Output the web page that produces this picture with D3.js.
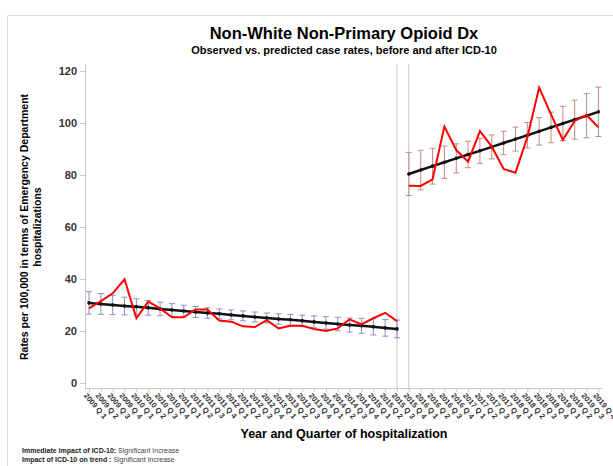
<!DOCTYPE html>
<html>
<head>
<meta charset="utf-8">
<script src="https://cdn.jsdelivr.net/npm/d3@7/dist/d3.min.js"></script>
<style>
  body { margin: 0; background: #fff; }
  svg { display: block; font-family: "Liberation Sans", Arial, sans-serif; }
</style>
</head>
<body>
<svg id="chart" width="613" height="466"></svg>
<script>
// Quarter labels, 2009 Q1 through 2019 Q4
const quarters = [
  "2009 Q 1","2009 Q 2","2009 Q 3","2009 Q 4",
  "2010 Q 1","2010 Q 2","2010 Q 3","2010 Q 4",
  "2011 Q 1","2011 Q 2","2011 Q 3","2011 Q 4",
  "2012 Q 1","2012 Q 2","2012 Q 3","2012 Q 4",
  "2013 Q 1","2013 Q 2","2013 Q 3","2013 Q 4",
  "2014 Q 1","2014 Q 2","2014 Q 3","2014 Q 4",
  "2015 Q 1","2015 Q 2","2015 Q 3",
  "2015 Q 4",
  "2016 Q 1","2016 Q 2","2016 Q 3","2016 Q 4",
  "2017 Q 1","2017 Q 2","2017 Q 3","2017 Q 4",
  "2018 Q 1","2018 Q 2","2018 Q 3","2018 Q 4",
  "2019 Q 1","2019 Q 2","2019 Q 3","2019 Q 4"
];

// Before ICD-10 (2009 Q1 - 2015 Q3)
const preQuarters = quarters.slice(0, 27);
const preObserved = [28.7, 31.5, 34.5, 39.9, 24.9, 31.3, 28.7, 25.3, 25.3, 28.3, 28.3, 24.0, 23.6, 21.8,
                     21.5, 24.2, 21.0, 22.0, 22.0, 20.8, 20.0, 21.0, 24.5, 22.5, 24.9, 27.0, 23.8];
const prePredicted = [30.8, 30.4, 30.0, 29.6, 29.3, 28.9, 28.5, 28.1, 27.7, 27.3, 26.9, 26.6, 26.2, 25.8,
                      25.4, 25.0, 24.6, 24.3, 23.9, 23.5, 23.1, 22.7, 22.3, 22.0, 21.6, 21.2, 20.8];
const preCI = [4.3, 4.0, 3.7, 3.4, 3.1, 2.8, 2.6, 2.4, 2.2, 2.1, 2.0, 1.9, 1.9, 1.9,
               1.9, 1.9, 2.0, 2.1, 2.2, 2.3, 2.4, 2.6, 2.7, 2.9, 3.1, 3.2, 3.4];

// After ICD-10 (2015 Q4 - 2019 Q4)
const postQuarters = quarters.slice(27);
const postObserved = [75.9, 75.8, 78.3, 98.6, 89.6, 85.1, 96.9, 90.9, 82.3, 80.9, 94.5, 113.6, 103.3, 93.5,
                      100.8, 103.1, 98.3];
const postPredicted = [80.4, 81.9, 83.4, 84.9, 86.4, 87.9, 89.3, 90.8, 92.3, 93.8, 95.3, 96.8, 98.3, 99.8,
                       101.3, 102.8, 104.3];
const postCI = [8.3, 7.6, 6.9, 6.2, 5.6, 5.1, 4.8, 4.6, 4.5, 4.6, 4.9, 5.3, 5.9, 6.6, 7.5, 8.5, 9.5];

const yTicks = [0, 20, 40, 60, 80, 100, 120];

const svg = d3.select("#chart");

// light frame around the panel
svg.append("path")
  .attr("d", "M7.5,466 V15.5 H613")
  .attr("fill", "none").attr("stroke", "#dcdcdc");

const plot = { left: 85, right: 602, top: 64, bottom: 388 };

const x = d3.scalePoint().domain(quarters).range([89, 598.4]);
const y = d3.scaleLinear().domain([0, 120]).range([383, 71]);

// titles
svg.append("text").attr("x", 344).attr("y", 39).attr("text-anchor", "middle")
  .attr("font-size", 16.5).attr("font-weight", "bold").attr("fill", "#000")
  .text("Non-White Non-Primary Opioid Dx");
svg.append("text").attr("x", 344).attr("y", 54).attr("text-anchor", "middle")
  .attr("font-size", 11).attr("font-weight", "bold").attr("fill", "#000")
  .text("Observed vs. predicted case rates, before and after ICD-10");

// y axis
const yAxis = svg.append("g").attr("transform", `translate(${plot.left},0)`)
  .call(d3.axisLeft(y).tickValues(yTicks).tickSize(5).tickPadding(3));
yAxis.select(".domain").remove();
yAxis.selectAll(".tick line").attr("stroke", "#c8c8c8");
yAxis.selectAll(".tick text").attr("font-size", 11).attr("font-weight", "bold").attr("fill", "#333")
  .attr("font-family", "Liberation Sans, Arial, sans-serif");
svg.append("line").attr("x1", plot.left + 0.5).attr("x2", plot.left + 0.5)
  .attr("y1", plot.top).attr("y2", plot.bottom).attr("stroke", "#c8c8c8");

// x axis
const xAxis = svg.append("g").attr("transform", `translate(0,${plot.bottom})`)
  .call(d3.axisBottom(x).tickSize(4).tickPadding(2));
xAxis.select(".domain").remove();
xAxis.selectAll(".tick line").attr("stroke", "#c8c8c8");
xAxis.selectAll(".tick text")
  .attr("font-size", 7.5).attr("font-weight", "bold").attr("fill", "#333")
  .attr("font-family", "Liberation Sans, Arial, sans-serif")
  .attr("text-anchor", "start")
  .attr("transform", "translate(-4,6) rotate(50)")
  .attr("dy", "0.35em").attr("y", 0).attr("x", 0);
svg.append("line").attr("x1", plot.left).attr("x2", plot.right)
  .attr("y1", plot.bottom + 0.5).attr("y2", plot.bottom + 0.5).attr("stroke", "#c8c8c8");

// ICD-10 transition markers
[preQuarters[preQuarters.length - 1], postQuarters[0]].forEach(q => {
  svg.append("line").attr("x1", x(q)).attr("x2", x(q))
    .attr("y1", plot.top).attr("y2", plot.bottom).attr("stroke", "#c8c8c8");
});

// axis titles
svg.append("text").attr("x", 344).attr("y", 438).attr("text-anchor", "middle")
  .attr("font-size", 12.5).attr("font-weight", "bold").attr("fill", "#000")
  .text("Year and Quarter of hospitalization");
const yTitle = svg.append("text").attr("transform", "translate(28,227) rotate(-90)")
  .attr("text-anchor", "middle").attr("font-size", 10.5).attr("font-weight", "bold").attr("fill", "#000");
yTitle.append("tspan").attr("x", 0).attr("y", 0).text("Rates per 100,000 in terms of Emergency Department");
yTitle.append("tspan").attr("x", 0).attr("y", 13).text("hospitalizations");

// draw one period: error bars, predicted trend, observed rates
function drawPeriod(qs, observed, predicted, ci, barColor) {
  const g = svg.append("g");
  const cap = 3;
  qs.forEach((q, i) => {
    const cx = x(q), top = y(predicted[i] + ci[i]), bot = y(predicted[i] - ci[i]);
    g.append("line").attr("x1", cx).attr("x2", cx).attr("y1", top).attr("y2", bot)
      .attr("stroke", barColor).attr("stroke-width", 1);
    g.append("line").attr("x1", cx - cap).attr("x2", cx + cap).attr("y1", top).attr("y2", top)
      .attr("stroke", barColor).attr("stroke-width", 1);
    g.append("line").attr("x1", cx - cap).attr("x2", cx + cap).attr("y1", bot).attr("y2", bot)
      .attr("stroke", barColor).attr("stroke-width", 1);
  });
  const line = d3.line().x((d, i) => x(qs[i])).y(d => y(d));
  g.append("path").datum(predicted).attr("d", line)
    .attr("fill", "none").attr("stroke", "#111").attr("stroke-width", 2.5);
  g.selectAll("circle").data(predicted).join("circle")
    .attr("cx", (d, i) => x(qs[i])).attr("cy", d => y(d)).attr("r", 1.8).attr("fill", "#111");
  g.append("path").datum(observed).attr("d", line)
    .attr("fill", "none").attr("stroke", "#ff0000").attr("stroke-width", 2)
    .attr("stroke-linejoin", "miter");
}
drawPeriod(preQuarters, preObserved, prePredicted, preCI, "#8391c6");
drawPeriod(postQuarters, postObserved, postPredicted, postCI, "#c48a84");

// footnotes
const notes = [
  ["Immediate impact of ICD-10:", " Significant Increase"],
  ["Impact of ICD-10 on trend :", " Significant Increase"]
];
notes.forEach((n, i) => {
  const t = svg.append("text").attr("x", 22).attr("y", 453 + i * 8.5).attr("font-size", 7).attr("fill", "#222");
  t.append("tspan").attr("font-weight", "bold").text(n[0]);
  t.append("tspan").attr("fill", "#444").text(n[1]);
});
</script>
</body>
</html>
